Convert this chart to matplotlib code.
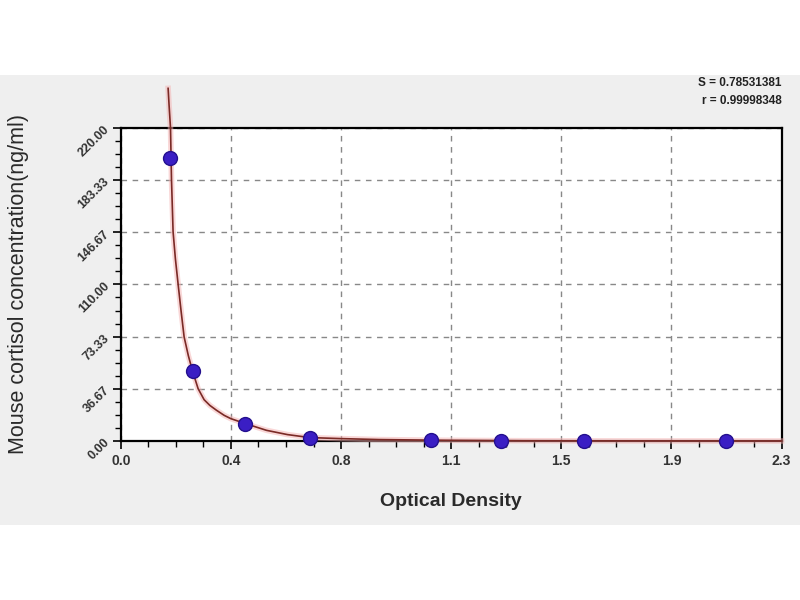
import numpy as np
import matplotlib
matplotlib.use("Agg")
import matplotlib.pyplot as plt
from matplotlib.patches import Rectangle
from matplotlib.ticker import FixedLocator, AutoMinorLocator

plt.rcParams["font.family"] = ["Liberation Sans", "DejaVu Sans"]

# standard points (OD vs concentration)
od = [0.171, 0.250, 0.434, 0.659, 1.081, 1.325, 1.612, 2.106]
conc = [198.5, 49.2, 12.2, 2.4, 0.6, 0.15, 0.04, 0.0]

# fitted curve
fit_od = [0.1647, 0.1680, 0.1730, 0.1765, 0.1820, 0.1900, 0.1995, 0.2100,
          0.2204, 0.2350, 0.2496, 0.2690, 0.2900, 0.3100, 0.3330, 0.3600,
          0.3830, 0.4340, 0.5070, 0.5800, 0.6580, 0.7620, 0.9000, 1.1300,
          1.4000, 1.8000, 2.3000]
fit_conc = [247.7, 236.0, 220.0, 183.3, 146.9, 128.0, 110.1, 91.0,
            73.1, 60.0, 49.2, 36.8, 29.0, 25.0, 21.6, 18.0,
            15.7, 12.2, 7.5, 4.5, 2.4, 1.7, 1.0, 0.5,
            0.2, 0.08, 0.03]

x_ticks = [0.0, 2.3 / 6, 2 * 2.3 / 6, 3 * 2.3 / 6, 4 * 2.3 / 6, 5 * 2.3 / 6, 2.3]
x_labels = ["0.0", "0.4", "0.8", "1.1", "1.5", "1.9", "2.3"]
y_ticks = [0, 220 / 6, 2 * 220 / 6, 3 * 220 / 6, 4 * 220 / 6, 5 * 220 / 6, 220]
y_labels = ["0.00", "36.67", "73.33", "110.00", "146.67", "183.33", "220.00"]

fig = plt.figure(figsize=(8, 6), dpi=100)
fig.patch.set_facecolor("white")
fig.patches.append(Rectangle((0, 0.125), 1, 0.75, transform=fig.transFigure,
                             facecolor="#efefef", edgecolor="none", zorder=-1))

ax = fig.add_axes([0.151, 0.265, 0.826, 0.522])
ax.set_zorder(1)
ax.set_facecolor("white")
ax.set_xlim(0, 2.3)
ax.set_ylim(0, 220)

ax.plot(fit_od, fit_conc, color="#f4b0b0", lw=4, alpha=0.5, clip_on=False, zorder=3)
ax.plot(fit_od, fit_conc, color="#7a2a26", lw=1.2, clip_on=False, zorder=4)
ax.plot(od, conc, "o", color="#3a1ec4", markeredgecolor="#24108e",
        markersize=10, clip_on=False, zorder=5)

ax.xaxis.set_major_locator(FixedLocator(x_ticks))
ax.yaxis.set_major_locator(FixedLocator(y_ticks))
ax.xaxis.set_minor_locator(AutoMinorLocator(4))
ax.yaxis.set_minor_locator(AutoMinorLocator(4))
ax.set_xticklabels(x_labels, fontsize=10, fontweight="bold", color="#333333")
ax.set_yticklabels(y_labels, fontsize=9, fontweight="bold", color="#333333",
                   rotation=45, ha="right", va="center", rotation_mode="anchor")
ax.tick_params(axis="both", which="major", length=6, width=1.2, direction="out")
ax.tick_params(axis="both", which="minor", length=4, width=1.0, direction="out")
ax.tick_params(top=False, right=False)

ax.grid(True, which="major", color="#888888", linestyle=(0, (4, 4)), lw=1.0)
ax.set_axisbelow(True)
for s in ax.spines.values():
    s.set_linewidth(1.6)
    s.set_color("black")

ax.set_xlabel("Optical Density", fontsize=14, fontweight="bold",
              color="#2a2a2a", labelpad=18)
ax.set_ylabel("Mouse cortisol concentration(ng/ml)", fontsize=15.5,
              color="#2a2a2a", labelpad=34)

fig.text(0.977, 0.862, "S = 0.78531381", ha="right", va="center",
         fontsize=8.5, fontweight="bold", color="#222222")
fig.text(0.977, 0.832, "r = 0.99998348", ha="right", va="center",
         fontsize=8.5, fontweight="bold", color="#222222")

fig.savefig("out.png", dpi=100, facecolor=fig.get_facecolor())
